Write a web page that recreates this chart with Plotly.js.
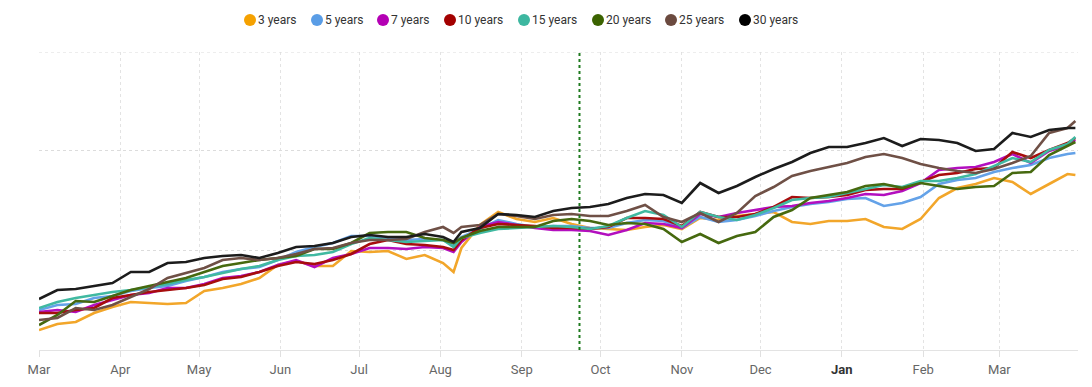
<!DOCTYPE html>
<html>
<head>
<meta charset="utf-8">
<script src="https://cdn.plot.ly/plotly-3.0.1.min.js"></script>
<style>
html,body{margin:0;padding:0;background:#fff;}
#chart{width:1092px;height:387px;}
</style>
</head>
<body>
<div id="chart"></div>
<script>
const dates = ["2023-03-01","2023-03-08","2023-03-15","2023-03-22","2023-03-29","2023-04-05","2023-04-12","2023-04-19","2023-04-26","2023-05-03",
"2023-05-10","2023-05-17","2023-05-24","2023-05-31","2023-06-07","2023-06-14","2023-06-21","2023-06-28","2023-07-05","2023-07-12",
"2023-07-19","2023-07-26","2023-08-02","2023-08-06","2023-08-09","2023-08-16","2023-08-23","2023-08-30","2023-09-06","2023-09-13",
"2023-09-20","2023-09-27","2023-10-04","2023-10-11","2023-10-18","2023-10-25","2023-11-01","2023-11-08","2023-11-15","2023-11-22",
"2023-11-29","2023-12-06","2023-12-13","2023-12-20","2023-12-27","2024-01-03","2024-01-10","2024-01-17","2024-01-24","2024-01-31",
"2024-02-07","2024-02-14","2024-02-21","2024-02-28","2024-03-06","2024-03-13","2024-03-20","2024-03-27","2024-03-30"];

const y3 = [0.20,0.26,0.28,0.37,0.43,0.48,0.47,0.46,0.47,0.59,0.62,0.66,0.72,0.85,0.89,0.84,0.84,0.99,0.98,0.99,
0.91,0.95,0.87,0.78,1.02,1.25,1.38,1.31,1.28,1.32,1.26,1.22,1.21,1.20,1.23,1.25,1.21,1.32,1.30,1.34,
1.36,1.38,1.28,1.26,1.29,1.29,1.31,1.23,1.21,1.31,1.52,1.62,1.66,1.72,1.68,1.56,1.66,1.76,1.75];
const y5 = [0.40,0.45,0.46,0.52,0.54,0.59,0.62,0.64,0.69,0.73,0.78,0.81,0.83,0.90,0.98,1.03,1.07,1.14,1.14,1.12,
1.10,1.11,1.10,1.05,1.13,1.21,1.30,1.26,1.23,1.24,1.24,1.22,1.22,1.27,1.30,1.29,1.22,1.33,1.28,1.30,
1.34,1.39,1.43,1.46,1.48,1.51,1.52,1.44,1.47,1.53,1.66,1.70,1.72,1.78,1.82,1.85,1.92,1.96,1.97];
const y7 = [0.38,0.40,0.38,0.45,0.50,0.55,0.57,0.62,0.62,0.66,0.72,0.74,0.78,0.85,0.90,0.83,0.92,0.96,1.02,1.02,
1.01,1.03,1.02,0.98,1.08,1.23,1.28,1.25,1.22,1.20,1.20,1.19,1.15,1.20,1.27,1.26,1.22,1.36,1.33,1.37,
1.40,1.43,1.44,1.47,1.49,1.52,1.56,1.55,1.59,1.67,1.80,1.82,1.83,1.88,1.96,1.87,1.99,2.05,2.10];
const y10 = [0.37,0.37,0.40,0.42,0.52,0.55,0.58,0.60,0.62,0.65,0.71,0.73,0.78,0.84,0.88,0.86,0.90,0.96,1.06,1.10,
1.06,1.05,1.03,1.00,1.10,1.22,1.26,1.25,1.24,1.22,1.22,1.21,1.23,1.32,1.32,1.31,1.24,1.38,1.33,1.33,
1.36,1.43,1.53,1.52,1.53,1.55,1.60,1.61,1.61,1.68,1.75,1.77,1.81,1.82,1.98,1.92,2.00,2.07,2.12];
const y15 = [0.42,0.48,0.52,0.55,0.58,0.60,0.63,0.66,0.70,0.73,0.77,0.81,0.84,0.90,0.94,0.95,0.98,1.06,1.12,1.10,
1.08,1.09,1.10,1.03,1.12,1.17,1.21,1.22,1.23,1.24,1.23,1.21,1.24,1.32,1.39,1.35,1.23,1.38,1.33,1.30,
1.35,1.42,1.50,1.52,1.53,1.57,1.61,1.65,1.63,1.69,1.69,1.72,1.76,1.84,1.92,1.88,2.00,2.06,2.13];
const y20 = [0.25,0.35,0.49,0.48,0.54,0.60,0.64,0.68,0.72,0.78,0.84,0.87,0.90,0.92,0.94,1.01,1.01,1.07,1.17,1.18,
1.18,1.12,1.10,1.07,1.12,1.19,1.23,1.23,1.23,1.29,1.31,1.29,1.25,1.27,1.26,1.21,1.08,1.16,1.07,1.14,
1.18,1.33,1.40,1.52,1.55,1.58,1.64,1.66,1.62,1.67,1.64,1.61,1.63,1.64,1.77,1.78,1.95,2.04,2.08];
const y25 = [0.30,0.32,0.42,0.40,0.45,0.53,0.61,0.72,0.77,0.82,0.90,0.92,0.90,0.92,0.96,1.01,1.02,1.07,1.10,1.10,
1.11,1.18,1.23,1.17,1.23,1.25,1.36,1.34,1.31,1.35,1.36,1.34,1.34,1.39,1.45,1.33,1.28,1.37,1.28,1.37,
1.54,1.63,1.74,1.79,1.83,1.87,1.93,1.96,1.92,1.86,1.82,1.79,1.77,1.81,1.87,1.94,2.17,2.22,2.29];
const y30 = [0.51,0.60,0.61,0.64,0.67,0.78,0.78,0.87,0.88,0.92,0.94,0.95,0.92,0.97,1.03,1.04,1.07,1.13,1.15,1.13,
1.13,1.16,1.13,1.08,1.18,1.22,1.36,1.35,1.33,1.39,1.42,1.43,1.46,1.52,1.56,1.55,1.47,1.67,1.57,1.64,
1.73,1.81,1.88,1.97,2.03,2.03,2.07,2.12,2.04,2.11,2.10,2.07,1.99,2.01,2.17,2.13,2.20,2.22,2.22];

const seriesNames = ["3 years","5 years","7 years","10 years","15 years","20 years","25 years","30 years"];
const seriesValues = [y3,y5,y7,y10,y15,y20,y25,y30];
const lineColors = ["#f2a62a","#64a2e8","#b30fbf","#a70d0d","#40b9a1","#46690f","#6f5046","#1c1c1c"];
const dotColors = ["#f5a100","#5a9de6","#b400b4","#a30000","#3db7a0","#3b6300","#6b4a3f","#000000"];

const tickVals = ["2023-03-01","2023-04-01","2023-05-01","2023-06-01","2023-07-01","2023-08-01","2023-09-01","2023-10-01","2023-11-01","2023-12-01","2024-01-01","2024-02-01","2024-03-01"];
const tickText = ["Mar","Apr","May","Jun","Jul","Aug","Sep","Oct","Nov","Dec","<b style='color:#333'>Jan</b>","Feb","Mar"];
const markerDate = "2023-09-23";

// legend layout (pixel positions of each entry's dot centre within the page)
const legendDotX = [250, 317, 383, 450, 524, 598, 671, 745];
const legendY = 20;

const W = 1092, H = 387, ML = 39, MR = 14, MT = 52, MB = 37;
const pw = W - ML - MR, ph = H - MT - MB;
const px2paperX = p => (p - ML) / pw;
const px2paperY = p => (H - MB - p) / ph;

const traces = seriesNames.map((n,i)=>({
  x:dates, y:seriesValues[i], type:'scatter', mode:'lines', name:n,
  line:{color:lineColors[i], width:2.6}, showlegend:false, hoverinfo:'skip'
}));

const shapes = [
  {type:'line', xref:'paper', yref:'y', x0:0, x1:1, y0:2.98, y1:2.98, line:{color:'#dcdcdc', width:1, dash:'dot'}},
  {type:'line', xref:'x', yref:'paper', x0:markerDate, x1:markerDate, y0:0, y1:1, line:{color:'#1f7a1f', width:2, dash:'dot'}}
];
const annotations = [];
seriesNames.forEach((n,i)=>{
  shapes.push({type:'circle', xref:'paper', yref:'paper', xsizemode:'pixel', ysizemode:'pixel',
    xanchor:px2paperX(legendDotX[i]), yanchor:px2paperY(legendY), x0:-6, x1:6, y0:-6, y1:6,
    fillcolor:dotColors[i], line:{width:0}});
  annotations.push({xref:'paper', yref:'paper', x:px2paperX(legendDotX[i]+7), y:px2paperY(legendY),
    xanchor:'left', yanchor:'middle', showarrow:false, text:n, font:{size:12, color:'#333'}, borderpad:0});
});

const layout = {
  width:W, height:H,
  margin:{l:ML, r:MR, t:MT, b:MB},
  paper_bgcolor:'#fff', plot_bgcolor:'#fff',
  font:{family:'Roboto, Arial, sans-serif', size:12, color:'#333'},
  showlegend:false,
  xaxis:{type:'date', range:['2023-03-01','2024-03-31'], tickvals:tickVals, ticktext:tickText,
    tickfont:{size:13, color:'#666'}, ticks:'outside', ticklen:6, tickcolor:'#e0e0e0',
    showgrid:true, gridcolor:'#e3e3e3', griddash:'dot', gridwidth:1,
    showline:true, linecolor:'#e3e3e3', linewidth:1, zeroline:false, ticklabelstandoff:1},
  yaxis:{range:[0,2.98], dtick:1, tick0:0, showticklabels:false, showgrid:true, gridcolor:'#dcdcdc', griddash:'dot',
    zeroline:false, showline:false, ticks:''},
  shapes:shapes,
  annotations:annotations
};
Plotly.newPlot('chart', traces, layout, {displayModeBar:false, staticPlot:true});
</script>
</body>
</html>
